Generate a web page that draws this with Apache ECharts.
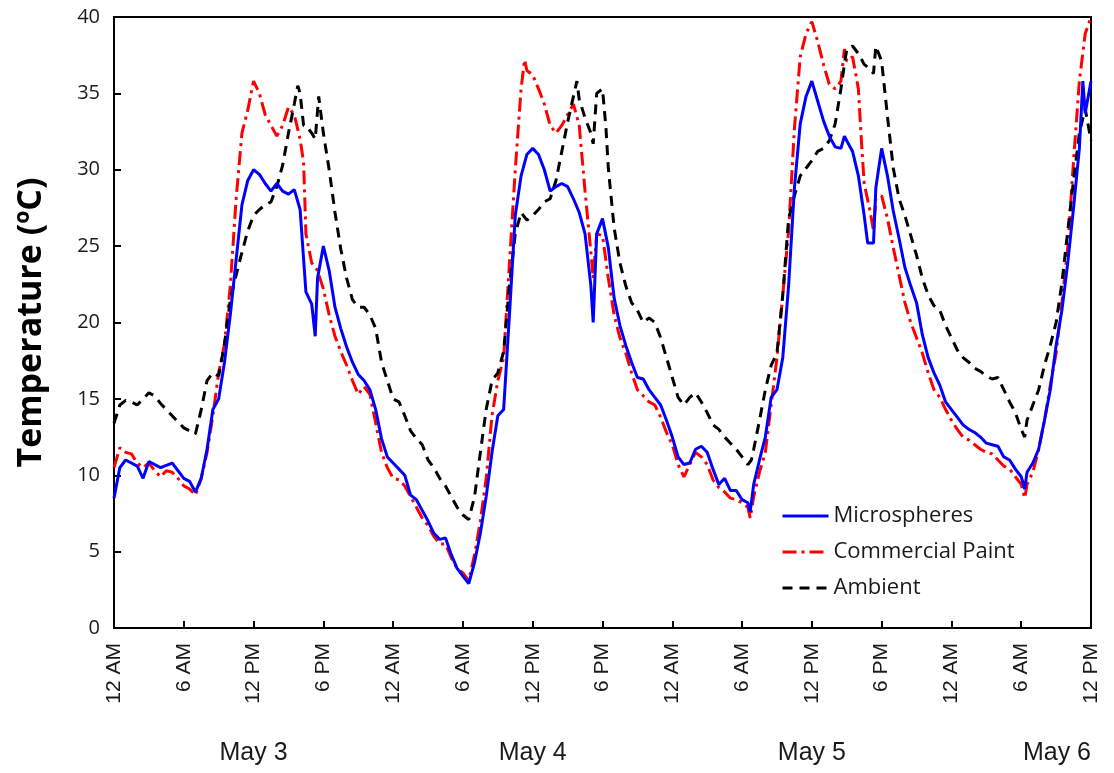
<!DOCTYPE html>
<html>
<head>
<meta charset="utf-8">
<script src="https://cdn.jsdelivr.net/npm/echarts@6/dist/echarts.min.js"></script>
<style>
  html, body { margin: 0; padding: 0; background: #ffffff; }
  #chart { width: 1114px; height: 773px; }
</style>
</head>
<body>
<div id="chart"></div>
<script>
// hours since 12 AM May 3, temperature in degC
const microHours = [0,0.5,1,2,2.5,3,4,5,6,6.5,7,7.5,8,8.5,9,9.5,10,10.5,11,11.5,12,12.5,13,13.5,14,14.5,15,15.5,16,16.5,17,17.3,17.5,18,18.5,19,19.5,20,20.5,21,21.5,22,22.5,23,23.5,24,24.5,25,25.5,26,26.5,27,27.5,28,28.5,29,29.5,30,30.5,31,31.5,32,32.5,33,33.5,34,34.5,35,35.5,36,36.5,37,37.5,38,38.5,39,39.5,40,40.5,41,41.2,41.5,42,42.5,43,43.5,44,44.5,45,45.5,46,46.5,47,47.5,48,48.5,49,49.5,50,50.5,51,51.5,52,52.5,53,53.5,54,54.5,54.7,55,55.5,56,56.5,57,57.5,58,58.5,59,59.5,60,60.5,61,61.5,62,62.5,62.8,63,63.5,64,64.5,64.8,65.3,65.5,66,66.5,67,67.5,68,68.5,69,69.5,70,70.5,71,71.5,72,72.5,73,73.5,74,74.5,75,75.5,76,76.5,77,77.5,78,78.3,78.5,79,79.5,80,80.5,81,81.5,82,82.5,83,83.3,83.5,84];
const microTemps = [8.5,10.5,11.0,10.6,9.8,10.9,10.5,10.8,9.8,9.6,8.9,9.8,11.7,14.3,15.0,17.4,20.5,24.1,27.7,29.3,30.0,29.7,29.1,28.6,29.1,28.6,28.4,28.7,27.4,22.0,21.2,19.1,22.9,25.0,23.4,21.0,19.6,18.4,17.4,16.6,16.2,15.6,14.3,12.4,11.2,10.8,10.4,10.0,8.7,8.4,7.7,7.0,6.2,5.8,5.9,4.8,3.9,3.4,2.9,4.3,6.2,8.6,11.5,13.9,14.3,20.5,27.0,29.6,31.0,31.4,31.0,30.0,28.6,28.9,29.1,28.9,28.1,27.2,25.8,22.4,20.0,25.8,26.8,24.9,21.6,19.8,18.5,17.4,16.4,16.3,15.6,15.1,14.6,13.6,12.5,11.2,10.7,10.8,11.7,11.9,11.5,10.4,9.4,9.8,9.0,9.0,8.4,8.2,7.6,9.4,11.0,12.5,15.1,15.6,17.7,22.4,28.8,33.0,34.8,35.8,34.5,33.2,32.2,31.5,31.4,32.2,31.9,31.2,29.6,27.0,25.2,25.2,28.8,31.4,29.6,27.3,25.5,23.6,22.4,21.3,19.2,17.7,16.7,15.9,14.8,14.3,13.8,13.3,13.0,12.8,12.5,12.1,12.0,11.9,11.2,11.0,10.4,9.9,9.1,10.2,10.8,11.7,13.6,15.6,18.5,20.8,23.9,27.5,31.4,35.8,33.7,35.8];

const paintHours = [0,0.5,1,1.5,2,2.5,3,3.5,4,4.5,5,5.5,6,6.5,7,7.5,8,8.5,9,9.5,10,10.5,11,11.5,12,12.5,13,13.5,14,14.5,15,15.5,16,16.3,16.5,17,17.5,18,18.5,19,19.5,20,20.5,21,21.5,22,22.5,23,23.5,24,24.5,25,25.5,26,26.5,27,27.5,28,28.5,29,29.5,30,30.5,31,31.5,32,32.5,33,33.5,34,34.5,35,35.3,35.5,36,36.5,37,37.5,38,38.5,39,39.5,40,40.5,41,41.2,41.5,42,42.5,43,43.5,44,44.5,45,45.5,46,46.5,47,47.5,48,48.5,49,49.5,50,50.5,51,51.5,52,52.5,53,53.5,54,54.5,54.7,55,55.5,56,56.5,57,57.5,58,58.5,59,59.5,60,60.5,61,61.5,62,62.5,62.8,63,63.5,64,64.3,64.5,65,65.3,65.5,66,66.5,67,67.5,68,68.5,69,69.5,70,70.5,71,71.5,72,72.5,73,73.5,74,74.5,75,75.5,76,76.5,77,77.5,78,78.3,78.5,79,79.5,80,80.5,81,81.5,82,82.5,83,83.5,84];
const paintTemps = [10.5,11.8,11.5,11.4,10.8,10.5,10.8,10.3,9.9,10.3,10.2,9.8,9.3,9.1,8.7,9.8,11.5,13.9,16.7,18.6,22.4,28.1,32.4,33.9,35.8,35.0,33.6,32.9,32.2,32.9,34.1,33.6,32.0,30.5,25.8,23.9,23.4,22.2,20.5,19.1,18.1,17.2,16.2,15.3,15.8,15.3,13.4,11.5,10.5,9.8,9.7,9.3,8.6,7.9,7.2,6.7,6.0,5.5,5.5,4.6,3.9,3.6,3.1,4.8,7.0,9.8,13.9,16.2,17.7,23.9,30.0,35.3,37.2,36.5,36.2,35.3,34.3,32.9,32.4,32.9,33.6,34.3,32.9,28.6,24.6,22.9,25.8,25.7,22.9,20.5,19.0,18.0,16.7,15.6,15.2,14.8,14.6,13.8,12.8,12.0,10.7,9.9,10.7,11.5,11.2,10.7,9.7,9.2,8.9,8.5,8.4,8.2,7.9,7.2,8.6,10.2,11.5,14.6,17.7,21.8,26.0,32.7,37.4,38.9,39.7,38.4,36.9,35.6,35.3,35.8,37.9,37.1,37.4,35.3,31.4,29.1,27.3,26.0,28.1,28.3,26.8,24.9,23.1,21.3,20.0,19.0,18.0,16.7,15.6,15.1,14.3,13.6,13.0,12.5,12.3,12.0,11.7,11.5,11.4,11.0,10.6,10.4,9.9,9.4,8.5,9.4,10.2,11.7,13.6,15.9,18.0,21.3,24.9,30.6,35.8,38.9,40.0];

const ambientHours = [0,0.5,1,1.5,2,2.5,3,3.5,4,4.5,5,5.5,6,6.5,7,7.5,8,8.5,9,9.5,10,10.5,11,11.5,12,12.5,13,13.5,14,14.5,15,15.5,15.8,16,16.3,16.5,17,17.3,17.6,18,18.5,19,19.5,20,20.5,21,21.5,22,22.5,23,23.5,24,24.5,25,25.5,26,26.5,27,27.5,28,28.5,29,29.5,30,30.5,31,31.5,32,32.5,33,33.5,34,34.5,35,35.5,36,36.5,37,37.5,38,38.5,39,39.5,39.8,40,40.5,41,41.2,41.5,42,42.3,42.5,43,43.5,44,44.5,45,45.5,46,46.5,47,47.5,48,48.5,49,49.5,50,50.5,51,51.5,52,52.5,53,53.5,54,54.5,54.8,55,55.5,56,56.5,57,57.5,58,58.5,59,59.5,60,60.5,61,61.5,62,62.5,62.8,63,63.5,64,64.5,65,65.3,65.5,66,66.5,67,67.5,68,68.5,69,69.5,70,70.5,71,71.5,72,72.5,73,73.5,74,74.5,75,75.5,76,76.5,77,77.5,78,78.3,78.5,79,79.5,80,80.5,81,81.5,82,82.5,83,83.5,84];
const ambientTemps = [13.4,14.6,14.9,14.8,14.6,15.0,15.4,15.2,14.7,14.3,13.9,13.5,13.1,12.9,12.7,14.3,16.2,16.7,16.5,18.6,21.5,23.1,24.6,26.0,27.0,27.4,27.7,27.9,28.9,30.3,32.4,34.3,35.5,35.0,32.9,32.9,32.4,32.0,34.8,32.4,30.0,27.2,24.8,22.9,21.5,21.0,21.0,20.5,19.6,17.4,16.2,15.0,14.8,13.9,12.9,12.4,12.0,11.0,10.5,9.8,9.3,8.6,7.9,7.4,7.1,8.6,11.5,14.3,16.2,16.7,18.1,22.4,25.8,27.2,26.7,27.0,27.4,27.9,28.1,29.3,31.2,33.1,34.8,35.8,34.6,33.4,32.4,31.7,35.0,35.3,32.7,30.1,26.2,23.9,22.4,21.3,20.8,20.0,20.3,20.0,19.0,17.7,16.4,15.1,14.6,15.1,15.4,14.8,14.1,13.3,13.0,12.5,12.1,11.7,11.2,10.7,11.0,11.7,13.6,15.6,17.2,18.0,21.8,26.8,28.3,29.6,30.1,30.6,31.2,31.4,31.9,33.0,35.3,36.9,37.9,38.1,37.6,36.9,36.6,36.3,38.1,37.1,33.5,30.1,28.1,27.0,25.7,24.4,22.9,21.8,21.1,20.8,19.8,19.0,18.2,17.7,17.4,17.0,16.8,16.5,16.3,16.4,15.6,14.8,14.1,13.0,12.5,13.6,14.6,15.6,17.2,18.5,20.0,22.6,26.0,29.3,32.4,34.0,31.9];

const hourLabels = ['12 AM', '6 AM', '12 PM', '6 PM'];
const dayLabels = ['May 3', 'May 4', 'May 5', 'May 6'];
const yTicks = [0, 5, 10, 15, 20, 25, 30, 35, 40];

function pairs(hs, ts) {
  return hs.map((h, i) => [h, ts[i]]);
}

const chart = echarts.init(document.getElementById('chart'), null, { renderer: 'canvas' });

const option = {
  backgroundColor: '#ffffff',
  animation: false,
  grid: {
    left: 114, right: 23, top: 17, bottom: 145,
    show: true, borderColor: '#000', borderWidth: 2
  },
  legend: {
    orient: 'vertical',
    left: 776, top: 500,
    itemWidth: 46, itemHeight: 22, itemGap: 14,
    itemStyle: { opacity: 0 },
    lineStyle: { width: 3 },
    textStyle: { fontFamily: 'Open Sans', fontSize: 22, color: '#1a1a1a' },
    data: ['Microspheres', 'Commercial Paint', 'Ambient']
  },
  xAxis: [
    {
      type: 'value', min: 0, max: 84, interval: 6,
      axisLine: { show: true, lineStyle: { color: '#000', width: 2 } },
      axisTick: { show: true, inside: true, length: 7, lineStyle: { color: '#000', width: 2 } },
      splitLine: { show: false },
      axisLabel: {
        rotate: 90, margin: 15,
        fontFamily: 'Liberation Sans', fontSize: 21, color: '#1a1a1a',
        formatter: v => hourLabels[(v % 24) / 6]
      }
    },
    {
      type: 'value', min: 0, max: 84, interval: 12, position: 'bottom', offset: 113,
      axisLine: { show: false }, axisTick: { show: false }, splitLine: { show: false },
      axisLabel: {
        margin: 0, alignMaxLabel: 'right',
        fontFamily: 'Liberation Sans', fontSize: 25, color: '#1a1a1a',
        formatter: v => (v % 24 === 12 ? dayLabels[(v - 12) / 24] : '')
      }
    }
  ],
  yAxis: {
    type: 'value', min: yTicks[0], max: yTicks[yTicks.length - 1], interval: 5,
    name: 'Temperature (ºC)', nameLocation: 'middle', nameGap: 66, nameRotate: 90,
    nameTextStyle: { fontFamily: 'Open Sans', fontWeight: 'bold', fontSize: 34, color: '#000' },
    axisLine: { show: true, lineStyle: { color: '#000', width: 2 } },
    axisTick: { show: true, inside: true, length: 7, lineStyle: { color: '#000', width: 2 } },
    splitLine: { show: false },
    axisLabel: { margin: 14, fontFamily: 'Open Sans', fontSize: 20, color: '#1a1a1a' }
  },
  series: [
    {
      name: 'Commercial Paint', type: 'line', symbol: 'none', z: 2,
      data: pairs(paintHours, paintTemps),
      itemStyle: { color: '#ff0000' },
      lineStyle: { color: '#ff0000', width: 3, type: [14, 5, 3, 5] }
    },
    {
      name: 'Ambient', type: 'line', symbol: 'none', z: 3,
      data: pairs(ambientHours, ambientTemps),
      itemStyle: { color: '#000000' },
      lineStyle: { color: '#000000', width: 3, type: [10, 7] }
    },
    {
      name: 'Microspheres', type: 'line', symbol: 'none', z: 4,
      data: pairs(microHours, microTemps),
      itemStyle: { color: '#0000ff' },
      lineStyle: { color: '#0000ff', width: 3 }
    }
  ]
};

chart.setOption(option);
</script>
</body>
</html>
